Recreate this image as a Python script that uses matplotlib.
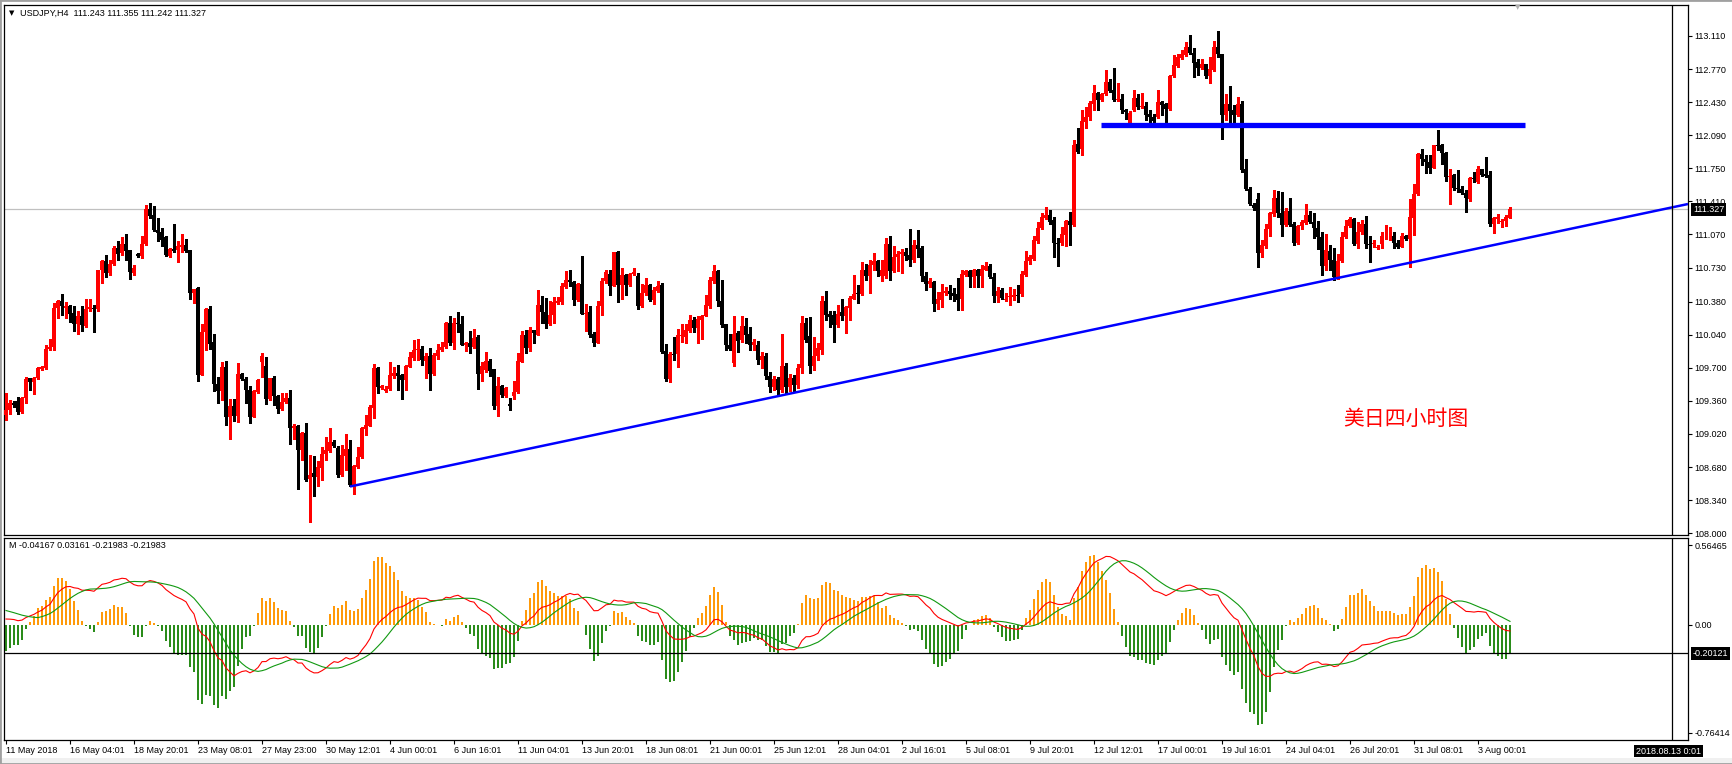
import matplotlib
matplotlib.use('Agg')
import matplotlib.pyplot as plt
from matplotlib.patches import Rectangle
import numpy as np

plt.rcParams['font.family'] = ['Liberation Sans', 'DejaVu Sans']

# ---------------- data ----------------
SYMBOL_TITLE = "USDJPY,H4  111.243 111.355 111.242 111.327"
MACD_TITLE = "M -0.04167 0.03161 -0.21983 -0.21983"
ANNOT = "美日四小时图"

OPENS = [
    109.21, 109.27, 109.34, 109.36, 109.25, 109.39, 109.59, 109.55, 109.59, 109.69,
    109.70, 109.89, 109.91, 110.31, 110.39, 110.31, 110.34, 110.26, 110.15, 110.23,
    110.13, 110.30, 110.31, 110.30, 110.70, 110.80, 110.67, 110.77, 110.93, 110.88,
    110.97, 110.91, 110.67, 110.87, 110.85, 110.97, 111.33, 111.27, 111.12, 111.10,
    111.04, 110.85, 110.92, 110.91, 110.94, 110.96, 110.91, 110.47, 110.52, 109.63,
    110.07, 110.30, 109.96, 109.53, 109.46, 109.71, 109.19, 109.31, 109.20, 109.64,
    109.58, 109.47, 109.19, 109.45, 109.76, 109.72, 109.38, 109.59, 109.41, 109.28,
    109.35, 109.39, 109.08, 109.10, 108.85, 109.03, 108.56, 108.62, 108.58, 108.67,
    108.81, 108.84, 108.94, 108.88, 108.60, 108.79, 108.87, 108.50, 108.68, 108.78,
    109.07, 109.10, 109.29, 109.70, 109.49, 109.46, 109.48, 109.62, 109.65, 109.63,
    109.57, 109.71, 109.80, 109.88, 109.89, 109.77, 109.82, 109.64, 109.82, 109.88,
    109.91, 110.16, 109.95, 110.16, 110.15, 109.93, 109.95, 109.91, 110.02, 109.64,
    109.68, 109.77, 109.69, 109.31, 109.51, 109.41, 109.33, 109.41, 109.45, 109.76,
    110.04, 109.90, 110.09, 110.04, 110.35, 110.27, 110.15, 110.24, 110.37, 110.38,
    110.53, 110.60, 110.58, 110.40, 110.56, 110.25, 110.27, 110.05, 109.95, 110.33,
    110.59, 110.66, 110.54, 110.89, 110.55, 110.65, 110.55, 110.66, 110.64, 110.34,
    110.47, 110.55, 110.40, 110.49, 110.55, 109.87, 109.58, 109.84, 109.84, 110.03,
    110.02, 110.08, 110.19, 110.11, 110.19, 110.23, 110.33, 110.59, 110.69, 110.39,
    110.15, 109.93, 109.75, 110.06, 109.99, 110.13, 110.05, 109.93, 109.93, 109.78,
    109.82, 109.62, 109.50, 109.58, 109.47, 109.72, 109.50, 109.60, 109.52, 109.70,
    110.16, 110.03, 109.72, 109.82, 109.88, 110.39, 110.25, 110.24, 110.14, 110.27,
    110.23, 110.31, 110.41, 110.47, 110.46, 110.71, 110.64, 110.76, 110.80, 110.64,
    110.64, 110.97, 110.69, 110.84, 110.87, 110.89, 110.86, 110.81, 110.96, 110.93,
    110.64, 110.56, 110.58, 110.36, 110.40, 110.47, 110.49, 110.47, 110.46, 110.41,
    110.65, 110.69, 110.63, 110.70, 110.64, 110.71, 110.75, 110.63, 110.44, 110.50,
    110.40, 110.43, 110.43, 110.45, 110.46, 110.65, 110.80, 110.82, 111.00, 111.14,
    111.24, 111.27, 111.22, 110.98, 110.98, 111.06, 111.21, 111.17, 112.00, 111.95,
    112.23, 112.28, 112.41, 112.52, 112.45, 112.51, 112.64, 112.55, 112.45, 112.46,
    112.35, 112.19, 112.35, 112.47, 112.38, 112.39, 112.31, 112.28, 112.28, 112.43,
    112.41, 112.36, 112.70, 112.80, 112.88, 112.91, 113.00, 112.94, 112.84, 112.78,
    112.82, 112.70, 112.76, 113.00, 112.92, 112.30, 112.41, 112.35, 112.30, 112.41,
    111.74, 111.54, 111.37, 111.43, 110.88, 110.95, 111.13, 111.28, 111.45, 111.29,
    111.17, 111.31, 111.18, 110.98, 111.16, 111.19, 111.27, 111.20, 111.14, 111.04,
    110.75, 110.90, 110.81, 110.63, 110.80, 111.04, 111.16, 111.23, 110.97, 111.10,
    111.18, 110.97, 110.97, 110.93, 110.97, 111.05, 111.05, 111.05, 110.98, 110.94,
    111.05, 111.02, 111.24, 111.49, 111.90, 111.85, 111.82, 111.75, 111.99, 111.99,
    111.91, 111.66, 111.68, 111.55, 111.54, 111.50, 111.43, 111.65, 111.61, 111.74,
    111.69, 111.68, 111.18, 111.23, 111.20, 111.21, 111.243,
]
HIGHS = [
    109.44, 109.37, 109.36, 109.40, 109.40, 109.61, 109.59, 109.61, 109.71, 109.72,
    109.93, 110.00, 110.37, 110.40, 110.46, 110.38, 110.35, 110.34, 110.28, 110.34,
    110.41, 110.41, 110.35, 110.71, 110.81, 110.86, 110.81, 110.95, 111.00, 111.04,
    111.08, 110.91, 110.76, 110.88, 111.05, 111.37, 111.39, 111.36, 111.24, 111.14,
    111.05, 110.93, 111.18, 111.00, 111.08, 111.02, 110.91, 110.51, 110.53, 110.15,
    110.31, 110.33, 110.05, 109.61, 109.76, 109.77, 109.38, 109.38, 109.75, 109.65,
    109.61, 109.51, 109.47, 109.58, 109.85, 109.81, 109.59, 109.62, 109.42, 109.44,
    109.44, 109.47, 109.12, 109.11, 109.04, 109.13, 108.80, 108.79, 108.74, 108.89,
    108.99, 109.08, 108.96, 108.90, 108.91, 109.02, 108.96, 108.70, 108.89, 109.09,
    109.21, 109.32, 109.74, 109.71, 109.52, 109.51, 109.76, 109.71, 109.73, 109.64,
    109.73, 109.86, 109.99, 110.00, 109.92, 109.85, 109.90, 109.85, 109.94, 109.96,
    110.17, 110.23, 110.21, 110.27, 110.23, 109.97, 110.08, 110.10, 110.04, 109.76,
    109.86, 109.79, 109.69, 109.61, 109.52, 109.50, 109.39, 109.56, 109.85, 110.08,
    110.09, 110.12, 110.09, 110.50, 110.44, 110.42, 110.39, 110.43, 110.43, 110.57,
    110.69, 110.71, 110.59, 110.57, 110.85, 110.36, 110.34, 110.07, 110.39, 110.62,
    110.71, 110.71, 110.89, 110.90, 110.73, 110.66, 110.67, 110.73, 110.67, 110.56,
    110.62, 110.56, 110.53, 110.59, 110.57, 109.94, 109.86, 110.02, 110.10, 110.15,
    110.15, 110.24, 110.22, 110.23, 110.24, 110.45, 110.63, 110.76, 110.71, 110.60,
    110.15, 110.05, 110.23, 110.08, 110.23, 110.21, 110.12, 110.00, 109.98, 109.86,
    109.85, 109.66, 109.62, 109.61, 110.05, 109.75, 109.64, 109.63, 109.74, 110.23,
    110.21, 110.22, 110.02, 109.95, 110.44, 110.49, 110.28, 110.28, 110.35, 110.41,
    110.34, 110.44, 110.65, 110.55, 110.79, 110.77, 110.81, 110.88, 110.81, 110.81,
    111.03, 111.05, 110.95, 110.90, 110.92, 110.93, 111.13, 111.01, 111.12, 110.95,
    110.68, 110.62, 110.59, 110.48, 110.56, 110.53, 110.55, 110.52, 110.62, 110.71,
    110.71, 110.71, 110.72, 110.72, 110.76, 110.79, 110.77, 110.67, 110.53, 110.52,
    110.47, 110.53, 110.51, 110.55, 110.69, 110.90, 110.86, 111.05, 111.20, 111.29,
    111.35, 111.32, 111.25, 111.03, 111.15, 111.22, 111.30, 112.04, 112.16, 112.35,
    112.38, 112.44, 112.61, 112.53, 112.52, 112.76, 112.67, 112.78, 112.63, 112.51,
    112.36, 112.34, 112.55, 112.51, 112.52, 112.43, 112.35, 112.31, 112.56, 112.44,
    112.42, 112.71, 112.91, 112.93, 112.97, 113.05, 113.12, 112.99, 112.87, 112.87,
    112.82, 112.89, 113.06, 113.16, 112.93, 112.51, 112.60, 112.40, 112.48, 112.44,
    111.85, 111.56, 111.39, 111.50, 111.01, 111.18, 111.30, 111.53, 111.52, 111.51,
    111.34, 111.44, 111.20, 111.17, 111.22, 111.38, 111.31, 111.29, 111.21, 111.10,
    111.08, 110.96, 110.93, 110.87, 111.10, 111.22, 111.25, 111.24, 111.20, 111.22,
    111.26, 111.05, 111.01, 110.96, 111.10, 111.17, 111.15, 111.10, 111.01, 111.09,
    111.06, 111.43, 111.59, 111.91, 111.95, 111.89, 111.89, 111.99, 112.14, 112.00,
    111.92, 111.74, 111.69, 111.73, 111.57, 111.53, 111.66, 111.71, 111.77, 111.74,
    111.87, 111.72, 111.25, 111.28, 111.23, 111.27, 111.355,
]
LOWS = [
    109.16, 109.23, 109.30, 109.22, 109.24, 109.34, 109.47, 109.43, 109.58, 109.68,
    109.69, 109.88, 109.88, 110.21, 110.24, 110.21, 110.17, 110.08, 110.05, 110.08,
    110.12, 110.28, 110.07, 110.28, 110.57, 110.63, 110.65, 110.76, 110.81, 110.86,
    110.81, 110.61, 110.65, 110.84, 110.83, 110.96, 111.24, 111.11, 111.00, 110.95,
    110.85, 110.84, 110.89, 110.79, 110.89, 110.89, 110.41, 110.37, 109.56, 109.63,
    109.88, 109.89, 109.46, 109.34, 109.37, 109.11, 108.97, 109.15, 109.14, 109.57,
    109.34, 109.13, 109.19, 109.44, 109.61, 109.33, 109.37, 109.32, 109.24, 109.27,
    109.34, 108.92, 108.97, 108.45, 108.75, 108.54, 108.12, 108.38, 108.48, 108.55,
    108.75, 108.83, 108.89, 108.58, 108.59, 108.65, 108.48, 108.40, 108.67, 108.77,
    109.01, 109.10, 109.18, 109.44, 109.48, 109.45, 109.47, 109.59, 109.47, 109.38,
    109.47, 109.71, 109.78, 109.78, 109.73, 109.60, 109.47, 109.63, 109.79, 109.87,
    109.90, 109.93, 109.89, 110.07, 109.93, 109.87, 109.85, 109.90, 109.48, 109.56,
    109.66, 109.62, 109.28, 109.20, 109.40, 109.40, 109.27, 109.38, 109.44, 109.76,
    109.85, 109.87, 109.95, 110.04, 110.16, 110.11, 110.14, 110.16, 110.36, 110.36,
    110.52, 110.54, 110.35, 110.39, 110.25, 110.08, 110.02, 109.92, 109.95, 110.24,
    110.57, 110.45, 110.54, 110.38, 110.41, 110.45, 110.54, 110.65, 110.30, 110.32,
    110.45, 110.39, 110.36, 110.48, 109.85, 109.56, 109.55, 109.78, 109.71, 109.97,
    109.95, 110.07, 110.07, 109.95, 110.00, 110.23, 110.31, 110.57, 110.33, 110.12,
    109.88, 109.88, 109.72, 109.86, 109.97, 109.95, 109.88, 109.88, 109.74, 109.70,
    109.58, 109.45, 109.47, 109.42, 109.45, 109.43, 109.46, 109.45, 109.49, 109.65,
    109.97, 109.65, 109.68, 109.78, 109.84, 110.19, 110.12, 109.97, 110.12, 110.19,
    110.06, 110.19, 110.41, 110.37, 110.45, 110.60, 110.47, 110.71, 110.64, 110.59,
    110.62, 110.60, 110.68, 110.69, 110.67, 110.81, 110.75, 110.79, 110.84, 110.59,
    110.50, 110.53, 110.28, 110.30, 110.32, 110.45, 110.41, 110.39, 110.29, 110.29,
    110.64, 110.53, 110.53, 110.53, 110.53, 110.70, 110.62, 110.38, 110.38, 110.41,
    110.39, 110.35, 110.40, 110.38, 110.44, 110.64, 110.77, 110.81, 110.98, 111.13,
    111.23, 111.18, 110.84, 110.75, 110.96, 110.95, 110.96, 111.16, 111.91, 111.89,
    112.16, 112.25, 112.35, 112.35, 112.44, 112.50, 112.53, 112.44, 112.44, 112.32,
    112.26, 112.18, 112.34, 112.36, 112.37, 112.25, 112.21, 112.21, 112.27, 112.30,
    112.21, 112.35, 112.69, 112.79, 112.87, 112.90, 112.93, 112.69, 112.71, 112.77,
    112.68, 112.63, 112.75, 112.89, 112.05, 112.25, 112.19, 112.19, 112.29, 111.71,
    111.53, 111.37, 111.32, 110.74, 110.84, 110.93, 111.05, 111.26, 111.25, 111.05,
    111.16, 111.16, 110.96, 110.97, 111.13, 111.18, 111.19, 111.03, 110.92, 110.65,
    110.70, 110.71, 110.60, 110.61, 110.79, 111.03, 111.15, 110.96, 110.93, 111.08,
    110.93, 110.79, 110.94, 110.92, 110.93, 111.02, 111.01, 110.93, 110.93, 110.94,
    111.01, 110.74, 111.06, 111.48, 111.78, 111.70, 111.70, 111.75, 111.94, 111.79,
    111.62, 111.38, 111.53, 111.51, 111.49, 111.30, 111.41, 111.61, 111.60, 111.67,
    111.66, 111.16, 111.09, 111.19, 111.15, 111.16, 111.242,
]
CLOSES = [
    109.27, 109.34, 109.32, 109.25, 109.39, 109.58, 109.55, 109.59, 109.70, 109.71,
    109.89, 109.91, 110.31, 110.39, 110.34, 110.34, 110.25, 110.15, 110.23, 110.14,
    110.30, 110.32, 110.30, 110.70, 110.80, 110.67, 110.77, 110.93, 110.87, 110.97,
    110.90, 110.68, 110.73, 110.85, 110.97, 111.33, 111.26, 111.12, 111.09, 111.01,
    110.86, 110.92, 110.90, 110.95, 110.96, 110.90, 110.47, 110.51, 109.63, 110.07,
    110.30, 109.94, 109.53, 109.46, 109.71, 109.19, 109.31, 109.20, 109.64, 109.58,
    109.47, 109.19, 109.46, 109.57, 109.82, 109.38, 109.59, 109.41, 109.28, 109.35,
    109.39, 109.08, 109.10, 108.85, 109.03, 108.55, 108.60, 108.58, 108.68, 108.81,
    108.85, 108.94, 108.90, 108.60, 108.80, 108.87, 108.50, 108.69, 108.78, 109.08,
    109.11, 109.30, 109.70, 109.50, 109.51, 109.48, 109.63, 109.65, 109.62, 109.57,
    109.72, 109.81, 109.88, 109.89, 109.78, 109.82, 109.64, 109.83, 109.88, 109.91,
    110.16, 109.95, 110.16, 110.15, 109.93, 109.95, 109.91, 110.01, 109.64, 109.72,
    109.77, 109.67, 109.31, 109.51, 109.42, 109.49, 109.31, 109.45, 109.77, 110.04,
    109.90, 110.09, 110.06, 110.35, 110.27, 110.15, 110.24, 110.38, 110.39, 110.54,
    110.60, 110.58, 110.40, 110.56, 110.25, 110.26, 110.04, 109.95, 110.34, 110.59,
    110.68, 110.54, 110.89, 110.55, 110.65, 110.55, 110.66, 110.68, 110.34, 110.47,
    110.55, 110.40, 110.50, 110.54, 109.86, 109.58, 109.84, 109.83, 110.04, 110.04,
    110.09, 110.19, 110.11, 110.20, 110.23, 110.35, 110.60, 110.69, 110.39, 110.14,
    109.93, 109.89, 110.05, 109.98, 110.13, 110.04, 109.93, 109.97, 109.78, 109.82,
    109.62, 109.50, 109.58, 109.47, 109.72, 109.50, 109.60, 109.52, 109.70, 110.16,
    109.99, 109.72, 109.82, 109.90, 110.39, 110.24, 110.22, 110.14, 110.25, 110.23,
    110.32, 110.42, 110.46, 110.46, 110.70, 110.64, 110.76, 110.80, 110.69, 110.70,
    110.97, 110.69, 110.84, 110.87, 110.89, 110.85, 110.81, 110.96, 110.92, 110.64,
    110.56, 110.59, 110.36, 110.41, 110.48, 110.49, 110.46, 110.44, 110.40, 110.66,
    110.69, 110.63, 110.70, 110.64, 110.72, 110.75, 110.63, 110.44, 110.49, 110.42,
    110.41, 110.44, 110.45, 110.44, 110.66, 110.80, 110.84, 111.01, 111.14, 111.25,
    111.27, 111.20, 110.98, 110.97, 111.07, 111.21, 111.17, 111.99, 111.92, 112.24,
    112.28, 112.42, 112.52, 112.45, 112.51, 112.64, 112.54, 112.45, 112.46, 112.35,
    112.33, 112.32, 112.47, 112.38, 112.39, 112.30, 112.28, 112.24, 112.43, 112.40,
    112.36, 112.70, 112.81, 112.89, 112.92, 113.00, 112.94, 112.83, 112.78, 112.82,
    112.70, 112.77, 113.00, 112.92, 112.30, 112.41, 112.34, 112.30, 112.41, 111.73,
    111.54, 111.38, 111.34, 110.88, 110.96, 111.13, 111.29, 111.45, 111.29, 111.17,
    111.31, 111.17, 110.98, 111.16, 111.20, 111.27, 111.20, 111.14, 111.04, 110.75,
    110.91, 110.81, 110.63, 110.80, 111.04, 111.16, 111.23, 110.97, 111.10, 111.18,
    110.97, 110.96, 110.98, 110.94, 111.05, 111.05, 111.05, 110.98, 110.94, 111.05,
    111.02, 111.25, 111.49, 111.90, 111.85, 111.82, 111.75, 111.99, 111.98, 111.91,
    111.66, 111.67, 111.55, 111.54, 111.50, 111.44, 111.65, 111.64, 111.74, 111.68,
    111.67, 111.18, 111.24, 111.25, 111.21, 111.25, 111.327,
]

DATE_LABELS = ["11 May 2018", "16 May 04:01", "18 May 20:01", "23 May 08:01",
               "27 May 23:00", "30 May 12:01", "4 Jun 00:01", "6 Jun 16:01",
               "11 Jun 04:01", "13 Jun 20:01", "18 Jun 08:01", "21 Jun 00:01",
               "25 Jun 12:01", "28 Jun 04:01", "2 Jul 16:01", "5 Jul 08:01",
               "9 Jul 20:01", "12 Jul 12:01", "17 Jul 00:01", "19 Jul 16:01",
               "24 Jul 04:01", "26 Jul 20:01", "31 Jul 08:01", "3 Aug 00:01"]
DATE_STEP = 16
PRICE_TICKS = [113.110, 112.770, 112.430, 112.090, 111.750, 111.410, 111.070,
               110.730, 110.380, 110.040, 109.700, 109.360, 109.020, 108.680,
               108.340, 108.000]
MACD_TICKS = [0.56465, 0.0, -0.76414]
MACD_TICK_LABELS = ["0.56465", "0.00", "-0.76414"]
BID = 111.327
RESIST_LEVEL = 112.20
RESIST_SPAN = [273.75, 379.75]
TREND_I = [86, 351]
TREND_P = [108.48, 110.78]
CROSS_I = 416.5
CROSS_V = -0.20121
CROSS_DATE = "2018.08.13 0:01"
MACD_FAST, MACD_SLOW, MACD_SIGNAL = 12, 26, 9
HIST_MULT = 3.0
MACD_SEED = 0.05
SIGNAL_SEED = 0.11

# ---------------- derived ----------------
O = np.array(OPENS); Hh = np.array(HIGHS); Ll = np.array(LOWS); C = np.array(CLOSES)
n = len(C)
x = np.arange(n)


def ema(vals, period, seed):
    a = 2.0 / (period + 1)
    out = np.empty(len(vals))
    e = seed
    for k, v in enumerate(vals):
        e = e + a * (v - e)
        out[k] = e
    return out


ema_fast = ema(C, MACD_FAST, C[0] + MACD_SEED)
ema_slow = ema(C, MACD_SLOW, C[0])
macd = ema_fast - ema_slow
hist_src = np.concatenate([np.full(MACD_SIGNAL - 1, SIGNAL_SEED), macd])
signal = np.convolve(hist_src, np.ones(MACD_SIGNAL) / MACD_SIGNAL, mode='valid')
hist = HIST_MULT * (macd - signal)

# ---------------- figure ----------------
W, H = 1733, 764
fig = plt.figure(figsize=(W / 100, H / 100), dpi=100)
fig.patch.set_facecolor('white')

L_PX, R_PX = 4, 1688
T1, B1 = 5, 535
T2, B2 = 538, 740


def fy(py):
    return 1 - py / H


# light gray strip at the very bottom (window status area)
fig.patches.append(Rectangle((0, 0), 1, 6 / H, transform=fig.transFigure,
                             fc='#F0F0F0', ec='none', zorder=0))

ax1 = fig.add_axes([L_PX / W, fy(B1), (R_PX - L_PX) / W, (B1 - T1) / H])
ax2 = fig.add_axes([L_PX / W, fy(B2), (R_PX - L_PX) / W, (B2 - T2) / H])

xl = ((L_PX - 6) / 4.0, (R_PX - 6) / 4.0)
# price scale: 97.3 px per unit, 113.11 at y=36
ax1.set_ylim(113.11 - (B1 - 36) / 97.3, 113.11 + (36 - T1) / 97.3)
ax2.set_ylim(-(B2 - 625) / 141.3, (625 - T2) / 141.3)
for ax in (ax1, ax2):
    ax.set_xlim(*xl)
    ax.set_facecolor('white')
    for s in ax.spines.values():
        s.set_color('black')
        s.set_linewidth(0.9)

LBL = 6.5

# candles
up = C >= O
col = np.where(up, '#FF0000', '#000000')
ax1.vlines(x, Ll, Hh, colors=col, linewidth=0.8, antialiased=False, zorder=3)
body_h = np.maximum(np.abs(C - O), 0.009)
ax1.bar(x, body_h, bottom=np.minimum(O, C), width=0.75, color=col,
        linewidth=0, antialiased=False, zorder=4)

# bid line
ax1.axhline(BID, color='#C0C0C0', lw=0.9, zorder=1)
# horizontal resistance
ax1.plot(RESIST_SPAN, [RESIST_LEVEL, RESIST_LEVEL], color='#0000FF', lw=3.8,
         solid_capstyle='butt', zorder=5)
# trend ray
slope = (TREND_P[1] - TREND_P[0]) / (TREND_I[1] - TREND_I[0])
tx = np.array([TREND_I[0], xl[1]])
ax1.plot(tx, TREND_P[0] + slope * (tx - TREND_I[0]), color='#0000FF', lw=1.8,
         solid_capstyle='butt', zorder=5)

# annotation text
ax1.text(1343 / 4.0 - 1.5, 109.17, ANNOT, color='#FF0000', fontsize=15,
         family=['Noto Sans CJK SC', 'DejaVu Sans'], va='center', ha='left', zorder=6)

# crosshair
for ax in (ax1, ax2):
    ax.axvline(CROSS_I, color='black', lw=0.9, zorder=6)
ax2.axhline(CROSS_V, color='black', lw=0.9, zorder=6)

# MACD panel
hcol = np.where(hist >= 0, '#FF9A0A', '#2A8C1A')
ax2.bar(x, hist, width=0.62, color=hcol, linewidth=0, antialiased=False, zorder=2)
ax2.plot(x, macd, color='#FF0000', lw=0.8, zorder=3)
ax2.plot(x, signal, color='#119911', lw=0.8, zorder=3)

# axes ticks
ax1.yaxis.tick_right()
ax1.set_yticks(PRICE_TICKS)
ax1.set_yticklabels([f"{t:.3f}" for t in PRICE_TICKS])
ax1.set_xticks([])
ax1.tick_params(axis='y', length=3, width=0.8, pad=1.5, labelsize=LBL, colors='black')

ax2.yaxis.tick_right()
ax2.set_yticks(MACD_TICKS)
ax2.set_yticklabels(MACD_TICK_LABELS)
ax2.tick_params(axis='y', length=3, width=0.8, pad=1.5, labelsize=LBL)
ax2.set_xticks(np.arange(len(DATE_LABELS)) * DATE_STEP)
ax2.set_xticklabels(DATE_LABELS, ha='left')
ax2.tick_params(axis='x', length=3, width=0.8, pad=1.5, labelsize=LBL)

# header texts
fig.text(9 / W, fy(13), "\u25BC", fontsize=5, va='center', ha='left', color='black',
         family=['DejaVu Sans'])
fig.text(20 / W, fy(13), SYMBOL_TITLE, fontsize=LBL, va='center', ha='left')
fig.text(9 / W, fy(546), MACD_TITLE, fontsize=LBL, va='center', ha='left')

# boxed labels on axes
box = dict(boxstyle='square,pad=0.18', fc='black', ec='none')
fig.text(1693 / W, fy(36 + (113.11 - BID) * 97.3), f"{BID:.3f}", color='white',
         fontsize=LBL, va='center', ha='left', bbox=box)
fig.text(1693 / W, fy(625 - CROSS_V * 141.3), f"{CROSS_V:.5f}", color='white',
         fontsize=LBL, va='center', ha='left', bbox=box)
fig.text(1636 / W, fy(751), CROSS_DATE, color='white', fontsize=LBL,
         va='center', ha='left', bbox=box)

# chart shift marker
fig.text(1518 / W, fy(7), "\u25BC", fontsize=5, va='center', ha='center',
         color='#B0B0B0', family=['DejaVu Sans'])

# window frame
fig.patches.append(Rectangle((0, 0), 1, 1, transform=fig.transFigure, fill=False,
                             ec='#A0A0A0', lw=2))

fig.savefig('out.png', dpi=100, facecolor='white')
